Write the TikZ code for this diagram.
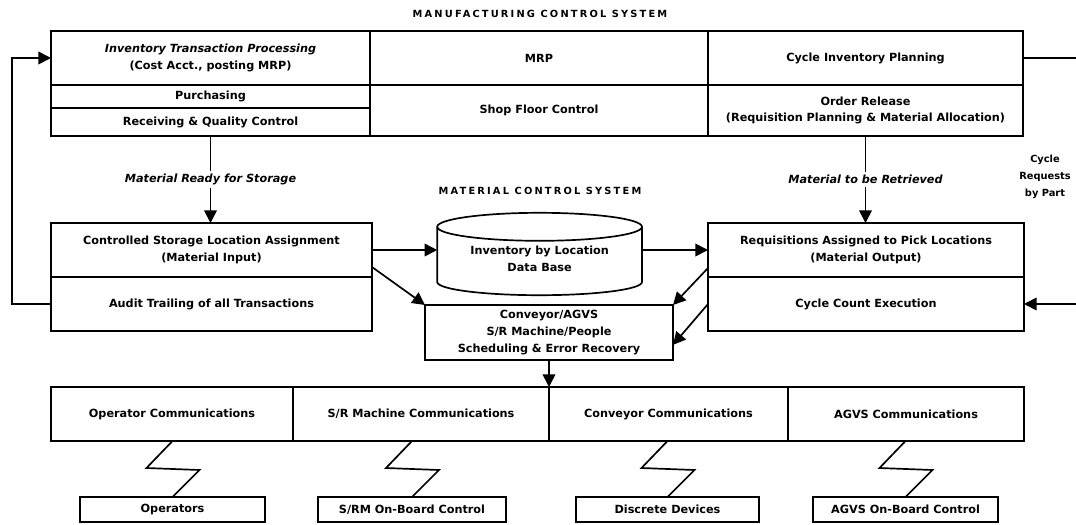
\documentclass[tikz,border=0pt]{standalone}
\usepackage{fontspec}
\setmainfont{DejaVu Sans}
\newfontfamily\headfont[LetterSpace=22]{DejaVu Sans Bold}
\usepackage{tikz}
\usetikzlibrary{arrows.meta, positioning, calc}
\tikzstyle{cell} = [rectangle, draw, line width=1.2pt, inner sep=0pt, outer sep=0pt, align=center, font=\fontsize{8}{12}\selectfont\bfseries]
\tikzstyle{unit} = [cell, minimum height=0.625cm]
\tikzstyle{tag} = [fill=white, inner sep=2pt, font=\fontsize{8}{12}\selectfont\bfseries\itshape]
\tikzstyle{head} = [font=\fontsize{7}{9}\headfont]
\tikzstyle{arrow} = [line width=1.2pt,-{Triangle[length=9pt,width=9pt]}]
\tikzstyle{link} = [line width=1.2pt]

\begin{document}
\begin{tikzpicture}
    \useasboundingbox (0,0) rectangle (26.9,-13.1);
    % Manufacturing control system
    \node[head] (mcs) at (13.5,-0.35) {MANUFACTURING CONTROL SYSTEM};
    \node[cell, minimum width=7.975cm, minimum height=1.35cm] (itp) at (5.2625,-1.45) {{\itshape Inventory Transaction Processing}\\(Cost Acct., posting MRP)};
    \node[cell, minimum width=7.975cm, minimum height=0.575cm] (pur) at (5.2625,-2.4125) {Purchasing};
    \node[cell, minimum width=7.975cm, minimum height=0.7cm] (rqc) at (5.2625,-3.05) {Receiving \& Quality Control};
    \node[cell, minimum width=8.45cm, minimum height=1.35cm] (mrp) at (13.475,-1.45) {MRP};
    \node[cell, minimum width=8.45cm, minimum height=1.275cm] (sfc) at (13.475,-2.7625) {Shop Floor Control};
    \node[cell, minimum width=7.875cm, minimum height=1.35cm] (cip) at (21.6375,-1.45) {Cycle Inventory Planning};
    \node[cell, minimum width=7.875cm, minimum height=1.275cm] (orl) at (21.6375,-2.7625) {Order Release\\(Requisition Planning \& Material Allocation)};

    % Material control system
    \node[head] (mtl) at (13.5,-4.78) {MATERIAL CONTROL SYSTEM};
    \node[cell, minimum width=8.025cm, minimum height=1.35cm] (csla) at (5.2875,-6.25) {Controlled Storage Location Assignment\\(Material Input)};
    \node[cell, minimum width=8.025cm, minimum height=1.35cm] (audit) at (5.2875,-7.6) {Audit Trailing of all Transactions};
    \node[cell, draw=none, minimum width=5.12cm] (db) at (13.49,-6.46) {Inventory by Location\\Data Base};
    \draw[link] ($(db)+(-2.56,0.79)$) -- ($(db)+(-2.56,-0.59)$) arc[start angle=180, end angle=360, x radius=2.56, y radius=0.33] -- ($(db)+(2.56,0.79)$);
    \draw[link] ($(db)+(0,0.79)$) ellipse[x radius=2.56, y radius=0.35];
    \node[cell, minimum width=7.9cm, minimum height=1.35cm] (rapl) at (21.65,-6.25) {Requisitions Assigned to Pick Locations\\(Material Output)};
    \node[cell, minimum width=7.9cm, minimum height=1.35cm] (cce) at (21.65,-7.6) {Cycle Count Execution};
    \node[cell, minimum width=6.2cm, minimum height=1.375cm] (sched) at (13.725,-8.3125) {Conveyor/AGVS\\S/R Machine/People\\Scheduling \& Error Recovery};
    \node[cell, draw=none, font=\fontsize{7}{12}\selectfont\bfseries] (crp) at (26.125,-4.42) {Cycle\\Requests\\by Part};

    % Communications
    \node[cell, minimum width=6.05cm, minimum height=1.35cm] (opc) at (4.3,-10.35) {Operator Communications};
    \node[cell, minimum width=6.4cm, minimum height=1.35cm] (src) at (10.525,-10.35) {S/R Machine Communications};
    \node[cell, minimum width=5.975cm, minimum height=1.35cm] (cvc) at (16.7125,-10.35) {Conveyor Communications};
    \node[cell, minimum width=5.9cm, minimum height=1.35cm] (agc) at (22.65,-10.35) {AGVS Communications};

    % Devices
    \node[unit, minimum width=4.625cm] (ops) at (4.3125,-12.7375) {Operators};
    \node[unit, minimum width=4.7cm] (srm) at (10.3,-12.7375) {S/RM On-Board Control};
    \node[unit, minimum width=4.575cm] (dd) at (16.6875,-12.7375) {Discrete Devices};
    \node[unit, minimum width=4.625cm] (agv) at (22.6375,-12.7375) {AGVS On-Board Control};

    \coordinate (rim) at (26.9,0);

    % Arrows
    \draw[arrow] (rqc.south) -- node[tag] {Material Ready for Storage} (rqc.south |- csla.north);
    \draw[arrow] (orl.south) -- node[tag] {Material to be Retrieved} (orl.south |- rapl.north);
    \draw[arrow] (audit.west) -- ++(-0.975,0) |- (itp.west);
    \draw[link] (cip.east) -- (cip.east -| rim);
    \draw[arrow] (cce.east -| rim) -- (cce.east);
    \draw[arrow] (csla.east) -- (csla.east -| db.west);
    \draw[arrow] (rapl.west -| db.east) -- (rapl.west);
    \draw[arrow] ([yshift=0.25cm]csla.south east) -- (sched.north west);
    \draw[arrow] ([yshift=0.225cm]rapl.south west) -- (sched.north east);
    \draw[arrow] (cce.west) -- ([yshift=-0.31cm]sched.east);
    \draw[arrow] (sched.south) -- (src.north east);
    \foreach \a/\b in {opc/ops, src/srm, cvc/dd, agc/agv}
        \draw[link] (\b.north |- \a.south) -- ++(-0.65,-0.675) -- ++(1.325,-0.05) -- (\b.north);
\end{tikzpicture}
\end{document}
